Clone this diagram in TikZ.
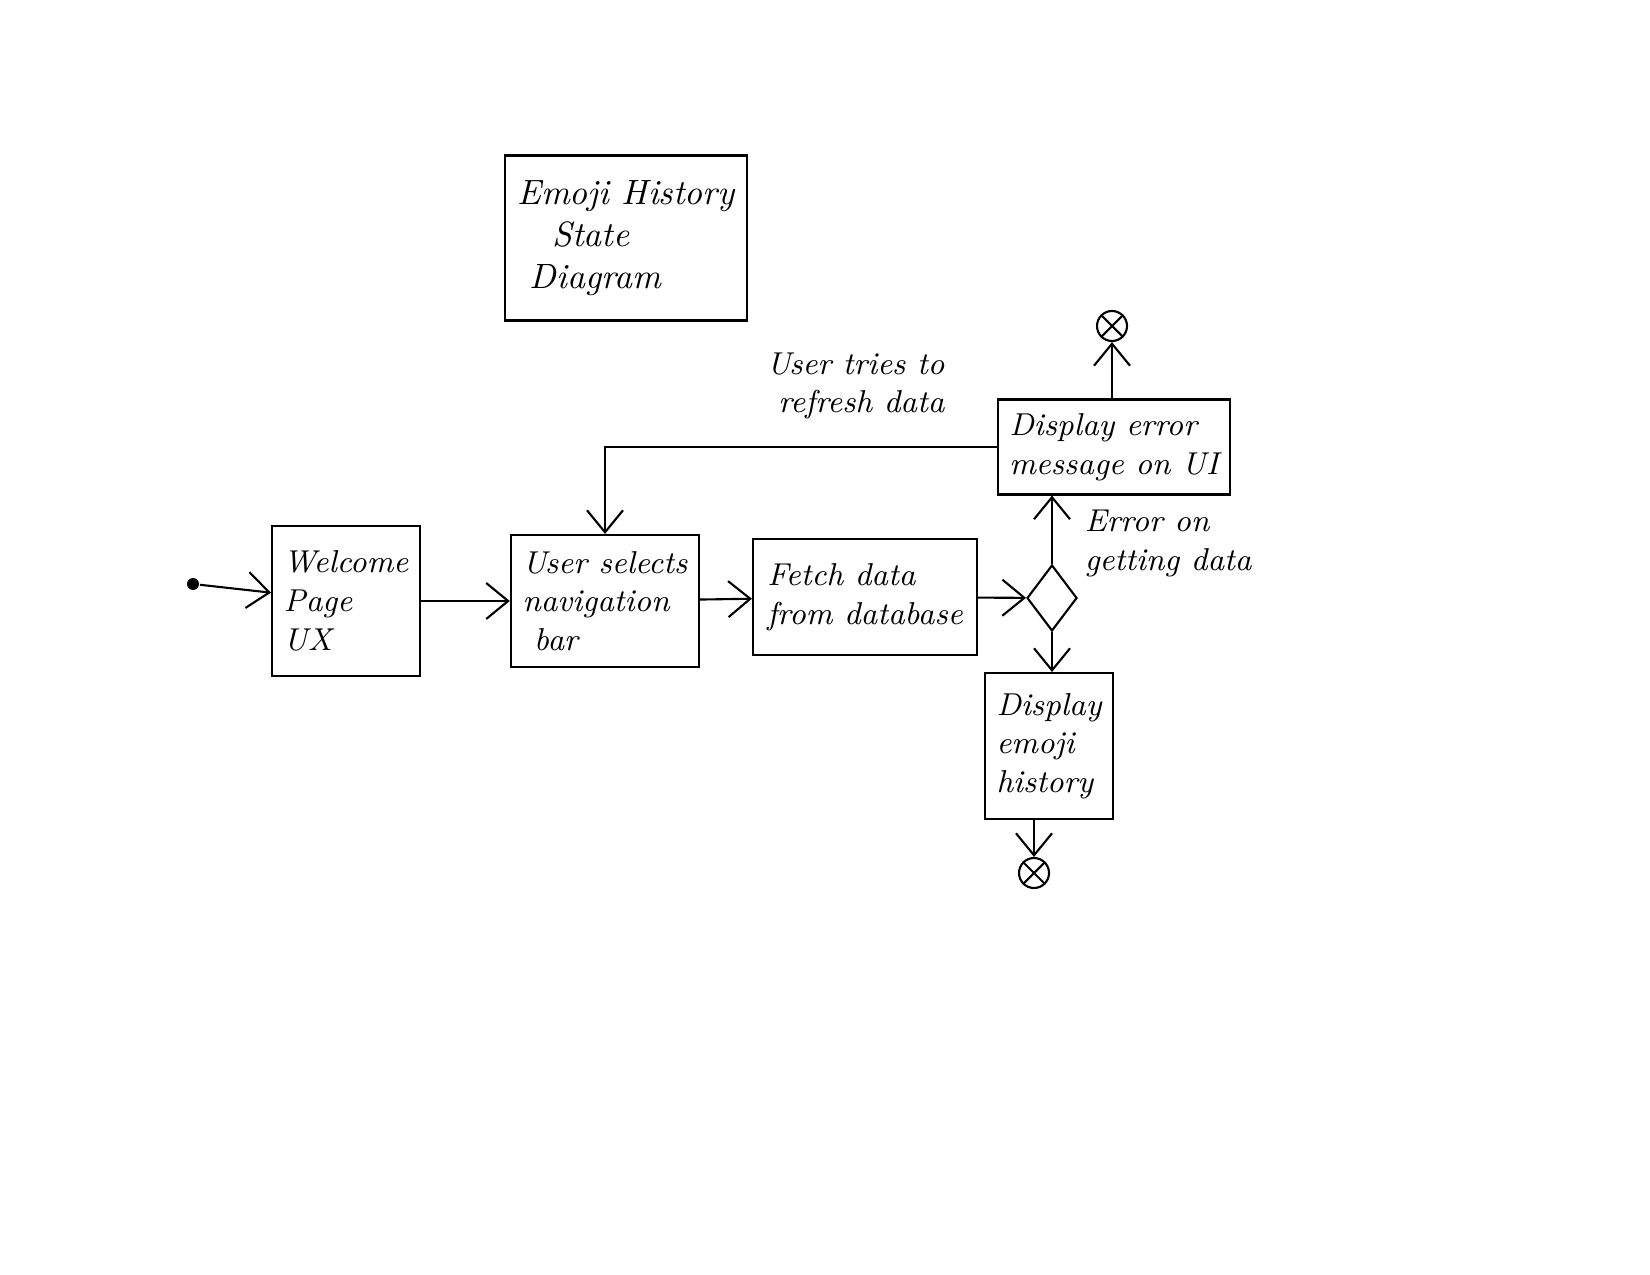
\documentclass[tikz,border=0pt]{standalone}
\usetikzlibrary{arrows.meta,shapes.geometric}

\begin{document}
\begin{tikzpicture}[x=0.1mm,y=-0.1mm,>={Straight Barb[length=2.2mm,width=3.6mm]},semithick,
		state/.style={rectangle, draw, align=left, font=\small\itshape},
		final/.style={circle, draw, minimum size=3mm, inner sep=0pt},
		choice/.style={diamond, draw, minimum width=5mm, minimum height=6.6mm, inner sep=0pt},
		note/.style={align=left, font=\small\itshape}]
				\useasboundingbox (0,0) rectangle (1650,1275);

				\node[state, minimum width=24.2mm, minimum height=16.5mm, font=\normalsize\itshape] (title) at (626,238) {Emoji History\\\quad State\\\ Diagram};

				\node[fill, circle, inner sep=1.2pt] (start) at (193,584) {};
				\node[state, minimum width=14.5mm, minimum height=15mm]   (welcome) at (346,601) {Welcome\\Page\\UX};
				\node[state, minimum width=17.9mm, minimum height=13.2mm] (select)  at (605,601) {User selects\\navigation\\\ bar};
				\node[state, minimum width=22.4mm, minimum height=11.6mm] (fetch)   at (865,597) {Fetch data\\from database};
				\node[choice]                                             (check)   at (1052,598) {};
				\node[state, minimum width=21.8mm, minimum height=9.5mm]  (error)   at (1114,447) {Display error\\message on UI};
				\node[state, minimum width=11.1mm, minimum height=14.6mm] (history) at (1049,746) {Display\\emoji\\history};
				\node[final] (end1) at (1112,326) {};
				\node[final] (end2) at (1034,873) {};

				\foreach \e in {end1,end2}
					\draw (\e.north west) -- (\e.south east) (\e.north east) -- (\e.south west);

				\draw[->] (start) -- (welcome);
				\draw[->] (welcome) -- (select);
				\draw[->] (select) -- (fetch);
				\draw[->] (fetch) -- (check);
				\draw[->] (check.north) -- (check.north |- error.south)
						node[note, right, pos=0.3, xshift=2mm] {Error on\\getting data};
				\draw[->] (check.south) -- (check.south |- history.north);
				\draw[->] (error.north -| end1) -- (end1);
				\draw[->] (history.south -| end2) -- (end2);
				\draw[->] (error.west) -| (select.north)
						node[note, pos=0.18, above=1.5mm] {User tries to\\\ refresh data};

			\end{tikzpicture}
\end{document}
